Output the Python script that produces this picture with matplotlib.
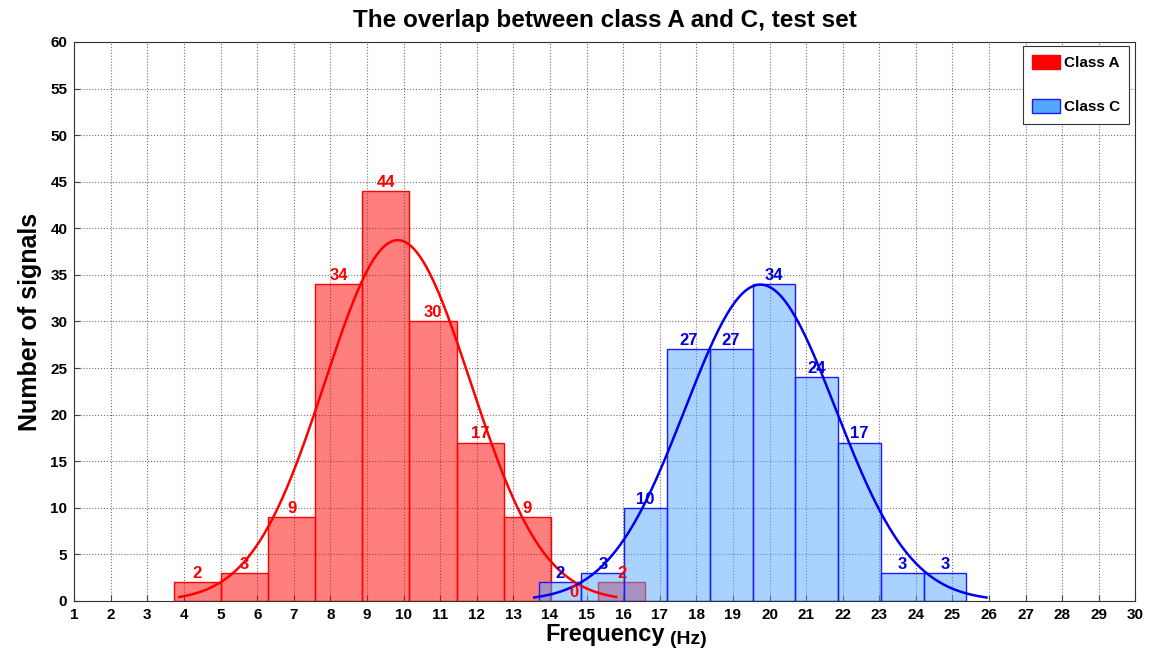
import numpy as np
import matplotlib
matplotlib.use("Agg")
import matplotlib.pyplot as plt
from matplotlib.patches import Patch

plt.rcParams['font.family'] = ['Liberation Sans', 'DejaVu Sans']
plt.rcParams['font.weight'] = 'bold'

# histogram of class A (test set)
counts_a = [2, 3, 9, 34, 44, 30, 17, 9, 0, 2]
start_a = 3.72
width_a = 1.288

# histogram of class C (test set)
counts_c = [2, 3, 10, 27, 27, 34, 24, 17, 3, 3]
start_c = 13.69
width_c = 1.169

# fitted normal curves (mean, std)
mu_a, sigma_a = 9.84, 1.99
mu_c, sigma_c = 19.75, 2.06

x_ticks = list(range(1, 31))
y_ticks = list(range(0, 61, 5))

red_face = (1.0, 0.0, 0.0, 0.5)
blue_face = (0.33, 0.65, 1.0, 0.5)
blue_edge = (0.1, 0.1, 1.0)

fig = plt.figure(figsize=(11.51, 6.5), dpi=100)
ax = fig.add_axes([0.0645, 0.0754, 0.922, 0.860])


def draw_hist(counts, start, width, face, edge):
    centers = start + width * (np.arange(len(counts)) + 0.5)
    ax.bar(centers, counts, width=width, color=face, edgecolor=edge,
           linewidth=1, zorder=2)
    return centers


def fit_curve(mu, sigma, counts, width):
    x = np.linspace(mu - 3 * sigma, mu + 3 * sigma, 200)
    scale = sum(counts) * width / (sigma * np.sqrt(2 * np.pi))
    return x, scale * np.exp(-0.5 * ((x - mu) / sigma) ** 2)


cen_a = draw_hist(counts_a, start_a, width_a, red_face, 'red')
cen_c = draw_hist(counts_c, start_c, width_c, blue_face, blue_edge)

xa, ya = fit_curve(mu_a, sigma_a, counts_a, width_a)
xc, yc = fit_curve(mu_c, sigma_c, counts_c, width_c)
ax.plot(xa, ya, color='red', lw=1.8, zorder=3)
ax.plot(xc, yc, color='#0000ee', lw=1.8, zorder=3)

for cx, v in zip(cen_a, counts_a):
    ax.text(cx, v + 0.45, str(v), color='red', ha='center', va='baseline',
            fontsize=12, fontweight='bold', zorder=4)
for cx, v in zip(cen_c, counts_c):
    ax.text(cx, v + 0.45, str(v), color='#0000dd', ha='center', va='baseline',
            fontsize=12, fontweight='bold', zorder=4)

ax.set_xlim(1, 30)
ax.set_ylim(0, 60)
ax.set_xticks(x_ticks)
ax.set_yticks(y_ticks)
ax.tick_params(direction='in', labelsize=11, length=4, color='#444444',
               pad=5)
for lab in ax.get_xticklabels() + ax.get_yticklabels():
    lab.set_fontweight('bold')
ax.grid(True, linestyle=':', color='#707070', linewidth=0.8, zorder=0)
ax.set_axisbelow(True)
for sp in ax.spines.values():
    sp.set_color('#333333')
    sp.set_linewidth(0.8)

ax.set_title("The overlap between class A and C, test set",
             fontsize=17.5, fontweight='bold', pad=11)
ax.set_xlabel("Frequency", fontsize=17, fontweight='bold', labelpad=1)
ax.annotate("(Hz)", xy=(1, 0), xycoords=ax.xaxis.label,
            xytext=(4, -1), textcoords='offset points',
            ha='left', va='bottom', fontsize=14, fontweight='bold')
ax.set_ylabel("Number of signals", fontsize=18, fontweight='bold', labelpad=6)

handles = [Patch(facecolor='red', edgecolor='red', label='Class A'),
           Patch(facecolor=(0.33, 0.65, 1.0), edgecolor=blue_edge,
                 label='Class C')]
leg = ax.legend(handles=handles, loc='upper right', fontsize=11,
                fancybox=False, edgecolor='#333333', framealpha=1,
                handlelength=1.8, handleheight=1.0, labelspacing=1.9,
                borderpad=0.6, handletextpad=0.3, borderaxespad=0,
                bbox_to_anchor=(0.9943, 0.9928))
leg.get_frame().set_linewidth(0.8)
for t in leg.get_texts():
    t.set_fontweight('bold')

fig.savefig("out.png", dpi=100)
